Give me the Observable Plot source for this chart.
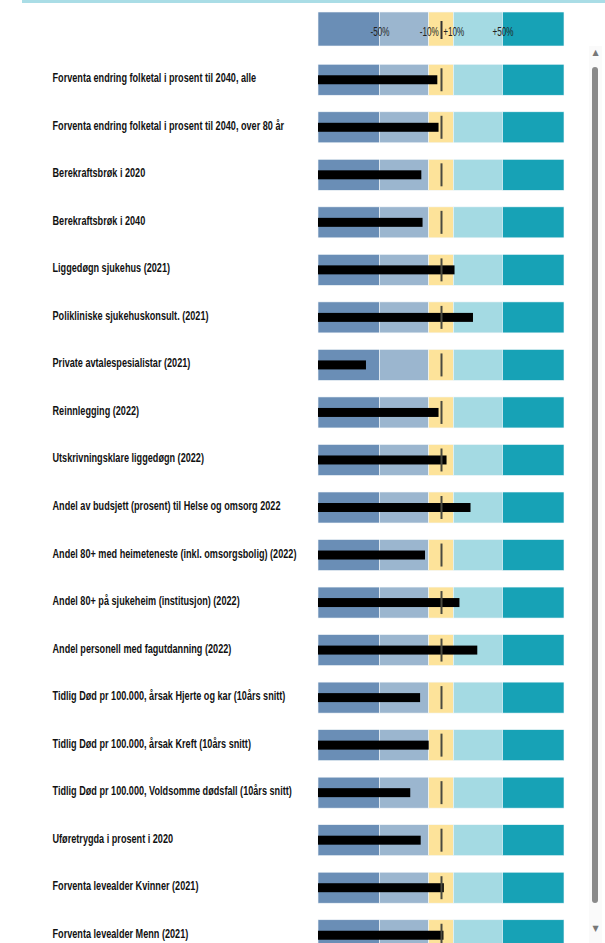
<!DOCTYPE html>
<html>
<head>
<meta charset="utf-8">
<script src="https://cdn.jsdelivr.net/npm/d3@7"></script>
<script src="https://cdn.jsdelivr.net/npm/@observablehq/plot@0.6"></script>
<style>
  html, body { margin: 0; padding: 0; background: #fff; overflow: hidden; width: 605px; height: 943px; }
  #wrap { position: relative; width: 605px; height: 943px; overflow: hidden; }
  #wrap svg { position: absolute; left: 0; top: 0; }
  #topline { position: absolute; left: 22px; right: 0; top: 0; height: 3px; background: #aadde6; }
  #track { position: absolute; left: 589px; top: 46px; width: 13px; height: 897px; background: #fafafa; }
  #thumb { position: absolute; left: 592px; top: 67px; width: 6px; height: 836px; background: #8a8a8a; border-radius: 3px; }
  .arrow { position: absolute; left: 591px; width: 9px; font-size: 8px; color: #777; text-align: center; font-family: "DejaVu Sans", sans-serif; line-height: 8px; }
</style>
</head>
<body>
<div id="wrap">
  <div id="topline"></div>
  <div id="track"></div>
  <div id="thumb"></div>
  <div class="arrow" style="top:49px">▲</div>
  <div class="arrow" style="top:925px">▼</div>
</div>
<script>
// ---- data ----
const labels = [
  "Forventa endring folketal i prosent til 2040, alle",
  "Forventa endring folketal i prosent til 2040, over 80 år",
  "Berekraftsbrøk i 2020",
  "Berekraftsbrøk i 2040",
  "Liggedøgn sjukehus (2021)",
  "Polikliniske sjukehuskonsult. (2021)",
  "Private avtalespesialistar (2021)",
  "Reinnlegging (2022)",
  "Utskrivningsklare liggedøgn (2022)",
  "Andel av budsjett (prosent) til Helse og omsorg 2022",
  "Andel 80+ med heimeteneste (inkl. omsorgsbolig) (2022)",
  "Andel 80+ på sjukeheim (institusjon) (2022)",
  "Andel personell med fagutdanning (2022)",
  "Tidlig Død pr 100.000, årsak Hjerte og kar (10års snitt)",
  "Tidlig Død pr 100.000, årsak Kreft (10års snitt)",
  "Tidlig Død pr 100.000, Voldsomme dødsfall (10års snitt)",
  "Uføretrygda i prosent i 2020",
  "Forventa levealder Kvinner (2021)",
  "Forventa levealder Menn (2021)"
];
const values = [-3, -2, -16, -15, 11, 26, -61, -2, 4.5, 24, -13, 15, 29.5, -17, -10, -25, -16.5, 2.3, 2];
const targets = [0, 0, 0, 0, 0, 0, 0, 0, 0, 0, 0, 0, 0, 0, 0, 0, 0, 0, 0];
const bandFrom = [-100, -50, -10, 10, 50];
const bandTo = [-50, -10, 10, 50, 100];
const bandColors = ["#6a8eb6", "#9bb6cf", "#fde39a", "#a4dae3", "#17a2b6"];
const headerTicks = [-50, -10, 10, 50];
const headerTickLabels = ["-50%", "-10%", "+10%", "+50%"];

// ---- derived tables ----
const rows = labels.map((label, i) => ({label, value: values[i], target: targets[i]}));
const bands = bandFrom.map((from, j) => ({from, to: bandTo[j], color: bandColors[j]}));
const bandCells = rows.flatMap(r => bands.map(b => ({label: r.label, ...b})));
const xDomain = [bandFrom[0], bandTo[bandTo.length - 1]];
const xMin = xDomain[0];

const wrap = document.getElementById("wrap");
const fontLab = "'Liberation Sans', Arial, sans-serif";

// horizontally squeeze each text element about its anchor
function squeeze(texts, k) {
  texts.forEach(t => {
    const tr = t.getAttribute("transform");
    if (tr) t.setAttribute("transform", tr + ` scale(${k},1)`);
    else {
      const x = +t.getAttribute("x") || 0;
      t.setAttribute("transform", `translate(${x},0) scale(${k},1) translate(${-x},0)`);
    }
  });
}

// ---- body ----
const body = Plot.plot({
  width: 605,
  height: 960,
  marginLeft: 318,
  marginRight: 41,
  marginTop: 56,
  marginBottom: 1,
  x: {domain: xDomain, axis: null},
  y: {domain: labels, axis: null, paddingInner: 0.348, paddingOuter: 0.174, round: false},
  style: {fontFamily: fontLab, background: "transparent"},
  marks: [
    Plot.barX(bandCells, {x1: "from", x2: "to", y: "label", fill: d => d.color, stroke: "#f4f8fb", strokeWidth: 0.6}),
    Plot.barX(rows, {x1: () => xMin, x2: "value", y: "label", fill: "#000", insetTop: 11, insetBottom: 11}),
    Plot.tickX(rows, {x: "target", y: "label", stroke: "#4a4a40", strokeWidth: 2, insetTop: 4, insetBottom: 4}),
    Plot.text(rows, {y: "label", text: "label", frameAnchor: "left", dx: -266, textAnchor: "start",
      fontSize: 12.5, fontWeight: "bold", fill: "#111", dy: -2, className: "rowlabels"})
  ]
});
body.style.top = "0px";
wrap.insertBefore(body, wrap.firstChild);

const labTexts = Array.from(body.querySelectorAll("g.rowlabels text"));
if (labTexts.length) {
  const w = labTexts[10].getBBox().width;
  squeeze(labTexts, 244 / w);
}

// ---- header ----
const header = Plot.plot({
  width: 605,
  height: 50,
  marginLeft: 318,
  marginRight: 41,
  marginTop: 12,
  marginBottom: 4,
  x: {domain: xDomain, axis: null},
  y: {domain: [0, 1], axis: null},
  style: {fontFamily: fontLab, background: "transparent"},
  marks: [
    Plot.rect(bands, {x1: "from", x2: "to", y1: () => 0, y2: () => 1, fill: d => d.color, stroke: "#f4f8fb", strokeWidth: 0.6}),
    Plot.tickX([0], {x: d => d, stroke: "#333", strokeWidth: 2, insetTop: 9, insetBottom: 7}),
    Plot.text(headerTicks, {x: d => d, y: () => 0.5, text: (d, i) => headerTickLabels[i], fontSize: 12.5, fill: "#222", dy: 2, className: "hdrlabels"})
  ]
});
header.style.top = "0px";
wrap.appendChild(header);
const hdrTexts = Array.from(header.querySelectorAll("g.hdrlabels text"));
if (hdrTexts.length) {
  const w = hdrTexts[0].getBBox().width;
  squeeze(hdrTexts, 19 / w);
}
</script>
</body>
</html>
